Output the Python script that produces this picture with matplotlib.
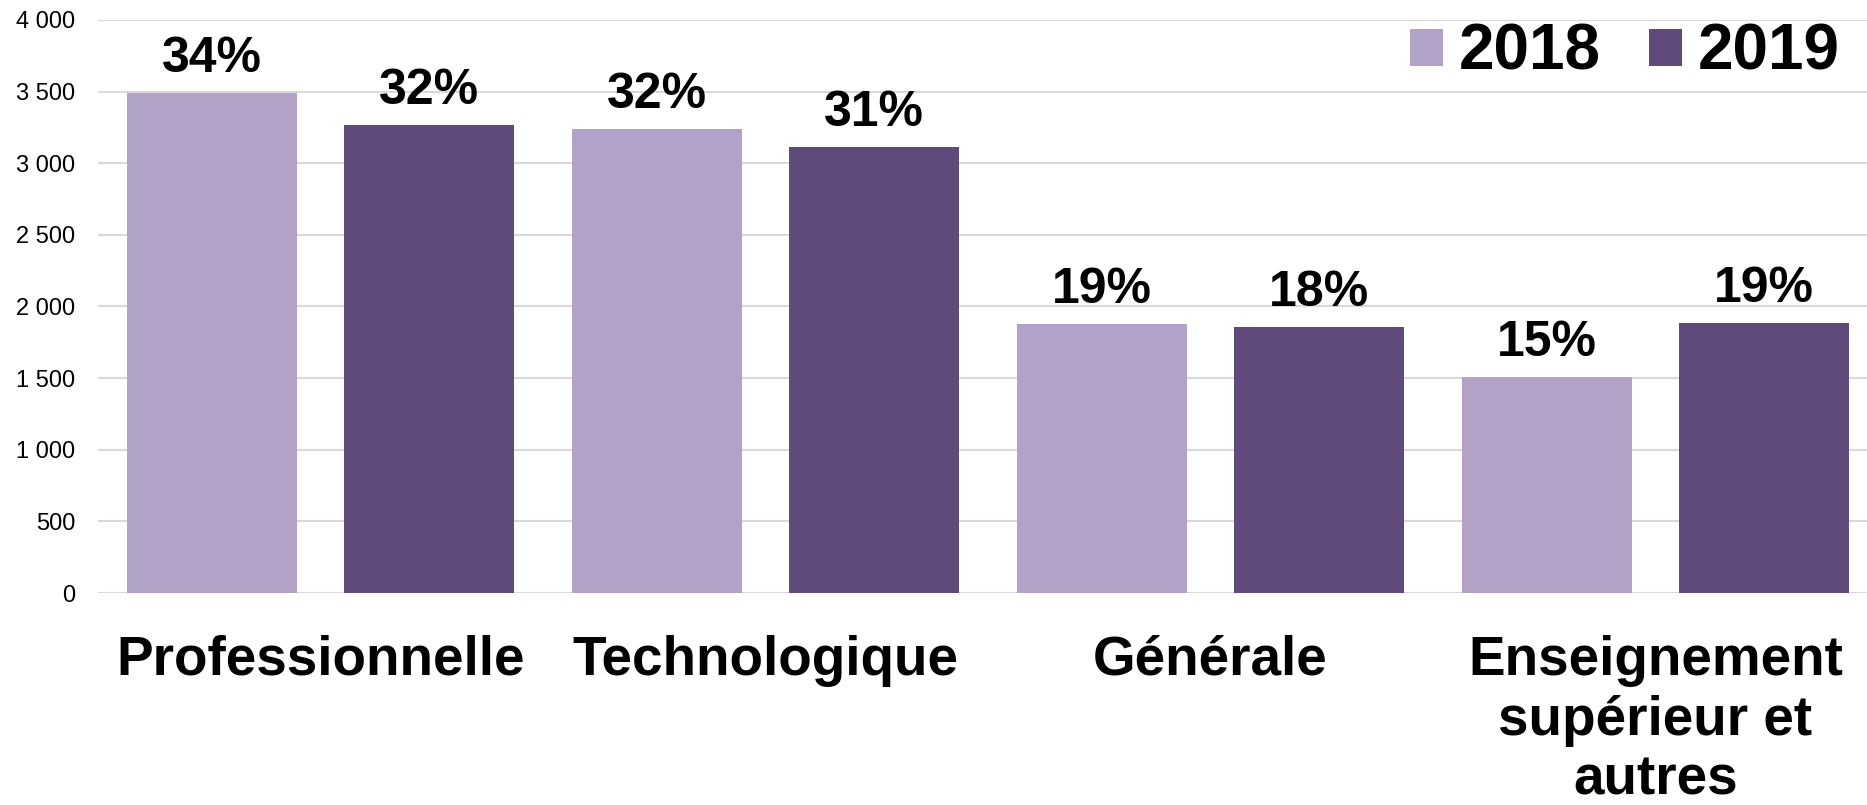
import numpy as np
import matplotlib
matplotlib.use("Agg")
import matplotlib.pyplot as plt
from matplotlib.ticker import FuncFormatter

plt.rcParams["font.family"] = ["Liberation Sans", "DejaVu Sans"]

# data
categories = ["Professionnelle", "Technologique", "Générale",
              "Enseignement\nsupérieur et\nautres"]
years = ["2018", "2019"]
values_2018 = [3490, 3240, 1880, 1510]
values_2019 = [3270, 3115, 1855, 1885]
pct_2018 = ["34%", "32%", "19%", "15%"]
pct_2019 = ["32%", "31%", "18%", "19%"]
yticks = [0, 500, 1000, 1500, 2000, 2500, 3000, 3500, 4000]

colors = ["#B3A2C7", "#604A7B"]

W, H = 1867, 805
fig = plt.figure(figsize=(W / 100, H / 100), dpi=100)
# plot area runs a little past the right edge of the picture
ax = fig.add_axes([98 / W, 1 - 593 / H, 1780 / W, (593 - 20) / H])

x = np.arange(len(categories))
width = 0.382
offset = 0.243

series = [(values_2018, pct_2018), (values_2019, pct_2019)]
for i, (vals, pcts) in enumerate(series):
    xs = x + (i * 2 - 1) * offset
    ax.bar(xs, vals, width, color=colors[i], label=years[i], zorder=2)
    for xi, v, p in zip(xs, vals, pcts):
        ax.annotate(p, (xi, v), xytext=(0, 15), textcoords="offset points",
                    ha="center", va="baseline", fontsize=36,
                    fontweight="bold", color="black")

ax.set_xlim(-0.5, len(categories) - 0.5)
ax.set_ylim(0, 4000)
ax.set_yticks(yticks)
ax.yaxis.set_major_formatter(
    FuncFormatter(lambda v, pos: f"{v:,.0f}".replace(",", " ")))
ax.set_xticks(x)
ax.set_xticklabels(categories, fontsize=39.5, fontweight="bold",
                   linespacing=1.2)
ax.tick_params(axis="y", length=0, pad=16.5, labelsize=17)
ax.tick_params(axis="x", length=0, pad=30)
ax.grid(axis="y", color="#D9D9D9", linewidth=1.5, zorder=0)
ax.set_axisbelow(True)
for s in ax.spines.values():
    s.set_visible(False)

leg = fig.legend(loc="upper right", bbox_to_anchor=(1840 / W, 1 - 23 / H),
                 ncol=2, frameon=False, prop={"size": 46, "weight": "bold"},
                 handlelength=0.52, handleheight=0.52, handletextpad=0.25,
                 columnspacing=0.75, borderpad=0, borderaxespad=0)

fig.savefig("out.png", dpi=100)
